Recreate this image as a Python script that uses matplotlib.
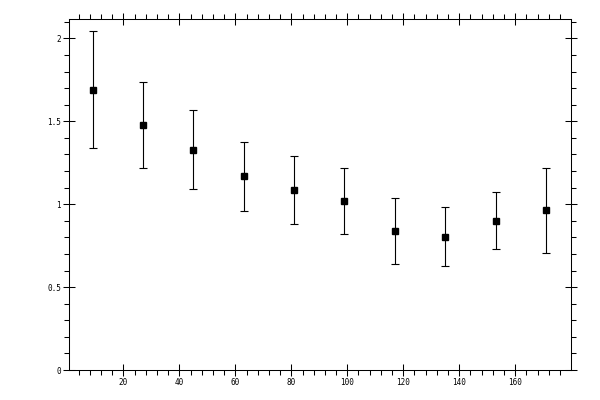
import matplotlib
matplotlib.use("Agg")
import matplotlib.pyplot as plt
from matplotlib.ticker import MultipleLocator, FuncFormatter

x = [9, 27, 45, 63, 81, 99, 117, 135, 153, 171]
y = [1.687, 1.476, 1.325, 1.168, 1.084, 1.017, 0.836, 0.800, 0.897, 0.963]
y_hi = [2.043, 1.735, 1.566, 1.377, 1.289, 1.216, 1.036, 0.981, 1.072, 1.216]
y_lo = [1.337, 1.216, 1.090, 0.957, 0.879, 0.818, 0.637, 0.625, 0.728, 0.704]

err_lo = [v - lo for v, lo in zip(y, y_lo)]
err_hi = [hi - v for v, hi in zip(y, y_hi)]

fig = plt.figure(figsize=(6, 4), dpi=100)
ax = fig.add_axes([69.3 / 600, 30 / 400, (570.7 - 69.3) / 600, (370 - 19.3) / 400])

ax.errorbar(x, y, yerr=[err_lo, err_hi], fmt='s', color='black',
            markersize=5, elinewidth=0.8, capsize=3, capthick=0.8)

ax.set_xlim(0.7, 179.8)
ax.set_ylim(0, 2.115)

ax.xaxis.set_major_locator(MultipleLocator(20))
ax.xaxis.set_minor_locator(MultipleLocator(4))
ax.yaxis.set_major_locator(MultipleLocator(0.5))
ax.yaxis.set_minor_locator(MultipleLocator(0.1))

# labels like the original: 0, 0.5, 1, 1.5, 2 ; x labels skip 0
ax.yaxis.set_major_formatter(FuncFormatter(lambda v, p: f"{v:g}"))
ax.xaxis.set_major_formatter(FuncFormatter(lambda v, p: "" if v == 0 else f"{v:g}"))

for s in ax.spines.values():
    s.set_linewidth(0.75)

ax.tick_params(which='major', direction='inout', length=8, width=0.75,
               top=True, right=True, labelsize=5.5, pad=2)
ax.tick_params(which='minor', direction='out', length=3.5, width=0.75,
               top=True, right=True)
for lbl in ax.get_xticklabels() + ax.get_yticklabels():
    lbl.set_family('DejaVu Sans Mono')

fig.savefig("out.png", dpi=100)
